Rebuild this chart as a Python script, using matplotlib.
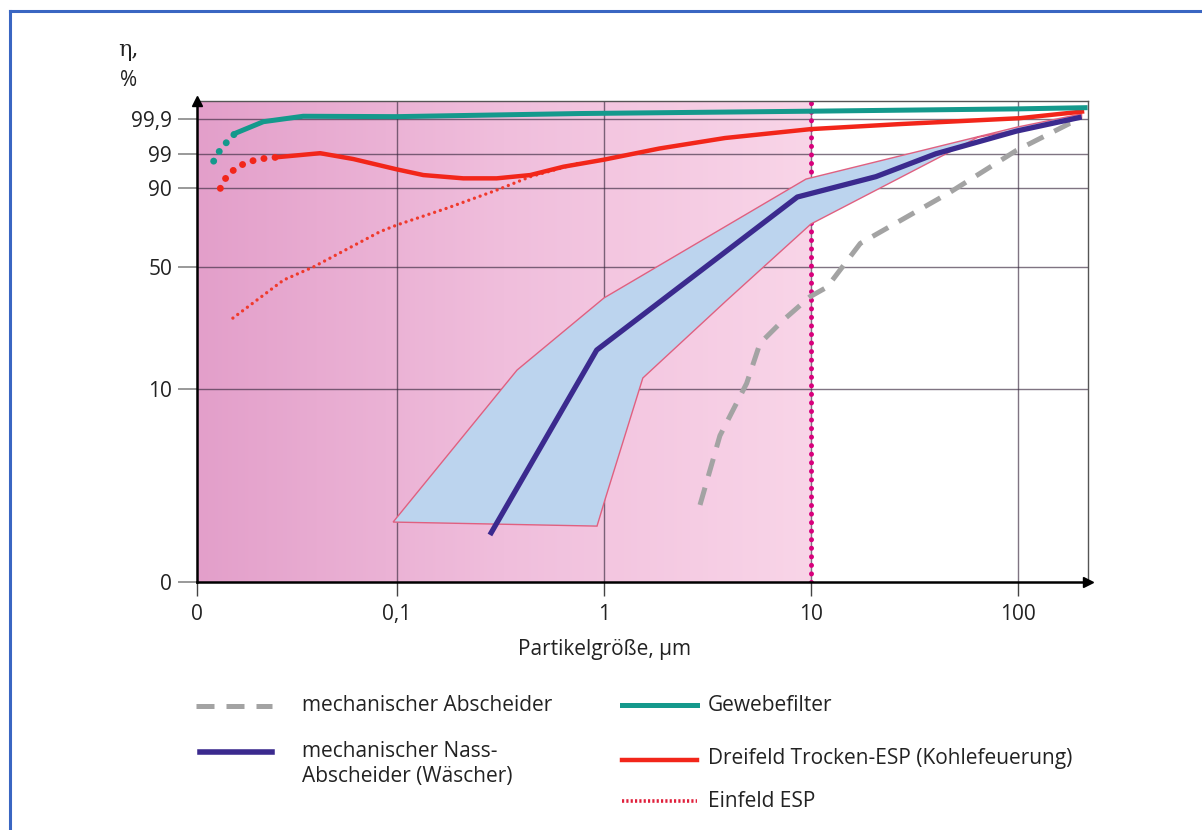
import numpy as np
import matplotlib
matplotlib.use("Agg")
import matplotlib.pyplot as plt
from matplotlib.lines import Line2D
from matplotlib.patches import Polygon
from matplotlib.colors import LinearSegmentedColormap

plt.rcParams['font.family'] = ['Open Sans', 'DejaVu Sans']

# ---------- DATA (particle size in um, efficiency in %) ----------
# Gewebefilter
gewebe_dot_x = [0.0130, 0.0135, 0.0146, 0.0165]
gewebe_dot_y = [97.2, 99.0, 99.24, 99.54]
gewebe_x = [0.0165, 0.0226, 0.0352, 0.1, 0.766, 10, 100, 211]
gewebe_y = [99.54, 99.84, 99.908, 99.907, 99.915, 99.921, 99.927, 99.93]

# Dreifeld Trocken-ESP
dreifeld_dot_x = [0.0140, 0.0150, 0.0168, 0.0191, 0.0218, 0.0258]
dreifeld_dot_y = [90.0, 93.1, 95.6, 97.0, 97.8, 98.2]
dreifeld_x = [0.0258, 0.0425, 0.0615, 0.0997, 0.134, 0.209, 0.303, 0.44,
              0.636, 1.0, 1.85, 3.84, 10, 27.2, 102, 204]
dreifeld_y = [98.2, 99.03, 97.76, 95.03, 93.52, 92.65, 92.65, 93.52,
              95.72, 97.6, 99.15, 99.42, 99.65, 99.78, 99.903, 99.92]

# Einfeld ESP
einfeld_x = [0.0161, 0.0283, 0.0395, 0.0828, 0.1, 0.174, 0.303, 0.44, 0.766]
einfeld_y = [33.3, 45.75, 50.1, 68.0, 71.4, 79.9, 89.1, 93.07, 96.78]

# mechanischer Nass-Abscheider
nass_x = [0.281, 0.922, 8.59, 20.6, 40.1, 98.6, 203]
nass_y = [2.43, 22.85, 85.6, 93.1, 99.015, 99.60, 99.906]

# range of the Nass-Abscheider (upper edge, then lower edge back)
band_x = [0.0957, 0.380, 1.0, 9.46, 98.9, 203,
          203, 64.1, 10, 3.93, 1.54, 1.01, 0.925]
band_y = [3.10, 16.3, 39.9, 92.46, 99.70, 99.914,
          99.903, 99.44, 71.9, 39.2, 13.7, 4.25, 2.89]

# mechanischer Abscheider
mech_x = [2.91, 3.63, 4.89, 5.67, 7.35, 9.89, 11.97, 17.3, 46.9, 98.6, 177, 199]
mech_y = [3.99, 7.59, 11.96, 25.04, 32.66, 40.29, 43.46, 62.0, 87.97, 99.105, 99.79, 99.85]

x_ticks = [0.0108, 0.1, 1, 10, 100]
x_labels = ['0', '0,1', '1', '10', '100']
y_ticks = [0, 10, 50, 90, 99, 99.9]
y_labels = ['0', '10', '50', '90', '99', '99,9']

# efficiency axis is stretched piecewise between the labelled values
Y_KNOTS = [0, 10, 50, 90, 99, 99.9, 99.99]
Y_POS = [0, 192.4, 314.7, 393.4, 427.4, 462.4, 497.4]


def y_forward(v):
    return np.interp(v, Y_KNOTS, Y_POS)


def y_inverse(p):
    return np.interp(p, Y_POS, Y_KNOTS)


W, H = 1202, 830
fig = plt.figure(figsize=(W / 100, H / 100), dpi=100)


def fx(px):
    return px / W


def fy(py):
    return 1 - py / H


ax = fig.add_axes([fx(197), fy(581.7), fx(1088) - fx(197), fy(100.7) - fy(581.7)])
ax.set_xscale('log')
ax.set_yscale('function', functions=(y_forward, y_inverse))
XMIN, XMAX = 0.0108, 218
YMAX = 99.948
ax.set_xlim(XMIN, XMAX)
ax.set_ylim(0, YMAX)

# pink gradient for the range below 10 um
frac10 = (np.log10(10) - np.log10(XMIN)) / (np.log10(XMAX) - np.log10(XMIN))
pink = LinearSegmentedColormap.from_list('pink', ['#e39fca', '#f0bedc', '#f9d5e8'])
grad = np.linspace(0, 1, 256).reshape(1, -1)
ax.imshow(grad, cmap=pink, aspect='auto', extent=(0, frac10, 0, 1),
          transform=ax.transAxes, zorder=0, interpolation='bilinear')

# grid
for xv in x_ticks[1:]:
    ax.axvline(xv, color='#3a2a40', lw=1, alpha=0.65, zorder=1)
for yv in y_ticks[1:]:
    ax.axhline(yv, color='#3a2a40', lw=1, alpha=0.65, zorder=1)

# 10 um boundary
ax.plot([10, 10], [0, YMAX], color='#d8007c', lw=3.6,
        linestyle=(0, (0.01, 1.7)), dash_capstyle='round', zorder=2)

# band + curves
band = Polygon(np.column_stack([band_x, band_y]), closed=True,
               facecolor='#bcd4ee', edgecolor='#e06080', lw=1.0, zorder=3)
ax.add_patch(band)

ax.plot(mech_x, mech_y, color='#a3a3a3', lw=3.6, linestyle=(0, (3.6, 2.4)), zorder=4)
ax.plot(nass_x, nass_y, color='#3b2a8e', lw=3.8, solid_capstyle='butt', zorder=5)
ax.plot(einfeld_x, einfeld_y, color='#f03a2c', lw=2.4,
        linestyle=(0, (0.01, 1.8)), dash_capstyle='round', zorder=5)
ax.plot(dreifeld_x, dreifeld_y, color='#f2261a', lw=3.2, zorder=6)
ax.plot(dreifeld_dot_x, dreifeld_dot_y, color='#f2261a', lw=5,
        linestyle=(0, (0.01, 1.6)), dash_capstyle='round', zorder=6)
ax.plot(gewebe_x, gewebe_y, color='#14998c', lw=3.6, zorder=7)
ax.plot(gewebe_dot_x, gewebe_dot_y, color='#14998c', lw=5,
        linestyle=(0, (0.01, 1.6)), dash_capstyle='round', zorder=7)

# axes frame
for side in ['top', 'right']:
    ax.spines[side].set_color('#555555')
    ax.spines[side].set_linewidth(1.0)
for side in ['left', 'bottom']:
    ax.spines[side].set_color('black')
    ax.spines[side].set_linewidth(1.8)
ax.plot(0, 1, marker='^', color='black', ms=7, transform=ax.transAxes,
        clip_on=False, zorder=10)
ax.plot(1, 0, marker='>', color='black', ms=7, transform=ax.transAxes,
        clip_on=False, zorder=10)

ax.set_xticks(x_ticks)
ax.set_xticklabels(x_labels)
ax.xaxis.set_minor_locator(matplotlib.ticker.NullLocator())
ax.set_yticks(y_ticks)
ax.set_yticklabels(y_labels)
ax.yaxis.set_minor_locator(matplotlib.ticker.NullLocator())
ax.tick_params(axis='x', direction='out', length=10, width=1, color='#444444',
               pad=6, labelsize=15, labelcolor='#222222')
ax.tick_params(axis='y', direction='out', length=14, width=1.2, color='#888888',
               pad=4, labelsize=15, labelcolor='#222222')

fig.text(fx(118), fy(50), 'η,', fontsize=16, ha='left', va='center', color='#222222',
         family=['DejaVu Serif'])
fig.text(fx(120), fy(81), '%', fontsize=15, ha='left', va='center', color='#222222')
fig.text(fx(604), fy(650), 'Partikelgröße, µm', fontsize=15, ha='center',
         va='center', color='#222222')

# legend
leg_style = dict(fontsize=15, ha='left', va='center', color='#222222')
fig.add_artist(Line2D([fx(196), fx(272)], [fy(706), fy(706)], color='#a3a3a3', lw=3.6,
                      linestyle=(0, (3.6, 2.4))))
fig.text(fx(302), fy(705), 'mechanischer Abscheider', **leg_style)
fig.add_artist(Line2D([fx(200), fx(272)], [fy(752), fy(752)], color='#3b2a8e', lw=4))
fig.text(fx(302), fy(764), 'mechanischer Nass-\nAbscheider (Wäscher)',
         linespacing=1.25, **leg_style)
fig.add_artist(Line2D([fx(622), fx(697)], [fy(705), fy(705)], color='#14998c', lw=3.6))
fig.text(fx(708), fy(705), 'Gewebefilter', **leg_style)
fig.add_artist(Line2D([fx(622), fx(697)], [fy(760), fy(760)], color='#f2261a', lw=3.2))
fig.text(fx(708), fy(758), 'Dreifeld Trocken-ESP (Kohlefeuerung)', **leg_style)
fig.add_artist(Line2D([fx(622), fx(697)], [fy(801), fy(801)], color='#e0203c', lw=2.6,
                      linestyle=(0, (0.6, 0.6))))
fig.text(fx(708), fy(801), 'Einfeld ESP', **leg_style)

# outer frame
fig.add_artist(Line2D([fx(10), fx(1202)], [fy(11), fy(11)], color='#3a66c2', lw=2.2))
fig.add_artist(Line2D([fx(10), fx(10)], [fy(11), fy(830)], color='#3a66c2', lw=2.2))

fig.savefig('out.png', dpi=100)
